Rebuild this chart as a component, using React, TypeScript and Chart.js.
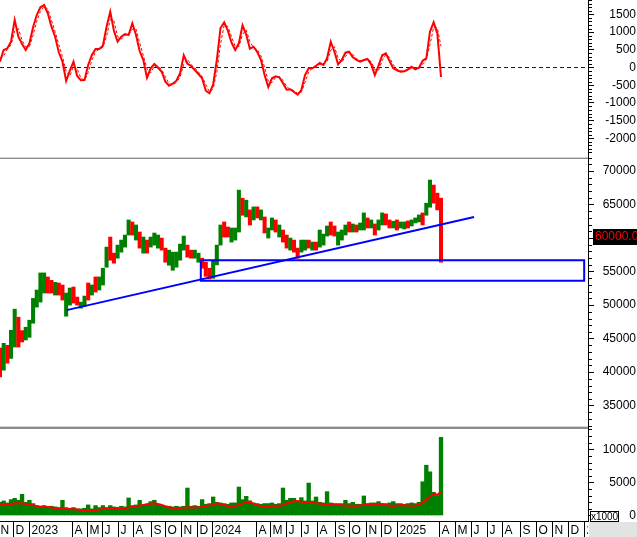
import React, { useEffect, useRef } from 'react';
import { Chart, registerables } from 'chart.js';

Chart.register(...registerables);

const FONT_FAMILY = '"Liberation Sans", Arial, Helvetica, sans-serif';
const AXIS_W = 48;
const X_MIN = 0;
const X_MAX = 800; // trading days shown across the plot
const DAYS_PER_BAR = 5;

const UP = '#008000';
const DOWN = '#ff0000';
const BLUE = '#0000ff';

// ---- Price bars (weekly ranges) ----
const barHigh = [
  43600, 44300, 44000, 46250, 49400, 48200, 46200, 46700, 47750, 51000,
  52250, 54800, 54800, 54200, 53700, 53400, 53300, 53000, 51800, 52550,
  52700, 51200, 50450, 51350, 53300, 53000, 54200, 54200, 55500, 58650,
  60150, 57750, 58950, 59700, 60450, 62700, 62400, 61950, 60900, 60150,
  59700, 60150, 60750, 60450, 60000, 58500, 58200, 57900, 57900, 59100,
  60300, 58950, 58200, 58200, 57750, 57000, 56400, 55500, 56700, 58950,
  61950, 62400, 61650, 61500, 61500, 67150, 65950, 65650, 64200, 64650,
  64650, 64200, 63150, 61500, 63000, 62700, 61950, 61200, 60450, 60000,
  59700, 58500, 59700, 59700, 59700, 59400, 59400, 61200, 60600, 61800,
  62400, 61800, 60900, 61200, 61950, 62400, 62100, 61950, 62250, 63750,
  63000, 62700, 62100, 62700, 63750, 63600, 62700, 62500, 62700, 62400,
  62400, 62550, 62700, 63000, 63450, 63750, 65200, 68650, 67900, 66700,
  65950,
];
const barLow = [
  39300, 40300, 41350, 42050, 43750, 43750, 44500, 44800, 45200, 47300,
  49700, 50450, 51800, 51800, 51800, 51500, 51500, 50750, 48350, 50000,
  50300, 50000, 49550, 49850, 50750, 51500, 51950, 52250, 53000, 55650,
  56700, 56250, 57000, 57900, 58650, 60450, 60450, 59700, 58500, 57750,
  57750, 58650, 58950, 58500, 58200, 56400, 55950, 55200, 55650, 56700,
  58200, 57150, 57000, 57000, 56400, 55500, 54300, 53900, 54000, 56000,
  58950, 60150, 60150, 59400, 59700, 60900, 63400, 63150, 61950, 62700,
  63000, 62700, 60750, 60000, 61200, 60900, 60150, 59400, 58500, 58200,
  57900, 57000, 57900, 58200, 58500, 58200, 58200, 58650, 58950, 60300,
  60450, 60300, 58950, 59700, 60450, 60900, 60900, 60900, 61200, 61200,
  61500, 61500, 60450, 61200, 61950, 61950, 61500, 61500, 61200, 61500,
  61350, 61500, 61800, 62250, 62400, 61950, 63400, 64600, 65200, 64200,
  56400,
];
// 1 = closed up (green), -1 = closed down (red)
const barDir = [
  -1, 1, -1, 1, 1, -1, -1, 1, 1, 1,
  1, 1, 1, -1, -1, 1, -1, -1, 1, 1,
  -1, -1, 1, 1, -1, 1, -1, 1, 1, 1,
  -1, -1, 1, 1, 1, 1, -1, 1, -1, 1,
  -1, 1, 1, 1, -1, -1, 1, 1, 1, 1,
  1, -1, -1, 1, 1, -1, -1, -1, 1, 1,
  1, -1, -1, 1, 1, 1, -1, 1, -1, 1,
  -1, 1, -1, 1, 1, -1, 1, -1, -1, 1,
  -1, -1, 1, 1, -1, 1, -1, 1, 1, 1,
  -1, -1, 1, 1, 1, -1, 1, -1, 1, 1,
  -1, 1, -1, 1, 1, -1, -1, 1, -1, 1,
  1, -1, 1, 1, 1, -1, 1, 1, -1, -1,
  -1,
];

// ---- Oscillator (top panel) ----
const oscMain = [
  164, 494, 542, 729, 1342, 870, 664, 494, 684, 1136,
  1483, 1701, 1766, 1531, 1153, 870, 429, 164, -381, -90,
  164, -240, -362, -353, 71, 353, 523, 523, 616, 1153,
  1576, 1040, 729, 870, 946, 918, 1249, 927, 466, 212,
  -288, -23, 99, -6, -119, -401, -514, -458, -373, -164,
  345, 107, 42, -71, -184, -305, -655, -729, -475, 212,
  1116, 1277, 1040, 701, 494, 684, 1192, 927, 531, 588,
  438, 220, -212, -551, -305, -249, -277, -446, -627, -616,
  -692, -768, -636, -212, -23, -23, 51, 127, 71, 260,
  729, 446, 90, 212, 418, 446, 288, 212, 164, 212,
  240, 90, -212, 51, 345, 401, 184, -23, -79, -119,
  -107, -51, 23, -51, -6, 192, 260, 1011, 1277, 966,
  -268,
];
const oscSignal = [
  250, 330, 520, 640, 1030, 1100, 770, 580, 590, 910,
  1310, 1590, 1730, 1650, 1340, 1010, 650, 300, -110, -240,
  40, -40, -300, -360, -140, 210, 440, 520, 570, 880,
  1360, 1310, 880, 800, 910, 930, 1080, 1090, 700, 340,
  -40, -150, 40, 50, -60, -260, -460, -490, -420, -270,
  90, 230, 80, -10, -130, -250, -480, -690, -600, -130,
  660, 1200, 1160, 870, 600, 590, 940, 1060, 730, 560,
  510, 330, 0, -380, -430, -280, -260, -360, -540, -620,
  -650, -730, -700, -420, -120, -20, 10, 90, 100, 170,
  490, 590, 270, 150, 310, 430, 370, 250, 190, 190,
  230, 170, -60, -80, 200, 370, 290, 80, -50, -100,
  -110, -80, -15, -15, -30, 90, 230, 640, 1140, 1120,
  600,
];
const oscZero = 0;

// ---- Volume (x1000) ----
const volume = [
  2000, 2200, 1900, 2400, 2600, 2300, 3200, 2000, 2300, 1800,
  1500, 1400, 1500, 1300, 1400, 1300, 1200, 2300, 1200, 1100,
  1200, 1000, 1000, 1100, 1600, 1000, 1500, 1200, 1500, 1200,
  1500, 1300, 1200, 1400, 1300, 2650, 1500, 1600, 2300, 1600,
  1700, 2100, 2300, 1700, 1500, 1400, 1400, 1300, 1400, 1300,
  1400, 4150, 1400, 1500, 1400, 2400, 1700, 1800, 2800, 2000,
  1900, 1800, 1700, 1900, 1900, 4300, 2400, 2900, 2200, 1900,
  1800, 1700, 1800, 1800, 1900, 1700, 1800, 4150, 2300, 2600,
  2600, 2000, 2700, 2200, 4900, 2200, 2800, 2000, 1900, 3600,
  1900, 1800, 1800, 1800, 2300, 1800, 2000, 1700, 1700, 2950,
  1800, 1900, 1900, 2100, 1800, 1800, 1900, 2100, 1800, 1800,
  1700, 1800, 1900, 1800, 2000, 5100, 7600, 6600, 3500, 3000,
  11800,
];
const volumeMA = [
  1590, 1590, 1620, 1700, 1840, 1840, 1840, 1750, 1690, 1600,
  1400, 1330, 1330, 1300, 1250, 1100, 1050, 1000, 1000, 980,
  950, 900, 850, 820, 800, 800, 820, 900, 1000, 1050,
  1090, 1090, 1090, 1090, 1100, 1200, 1330, 1400, 1500, 1600,
  1700, 1800, 1840, 1750, 1590, 1400, 1250, 1100, 1090, 1150,
  1190, 1250, 1200, 1200, 1250, 1330, 1450, 1550, 1590, 1840,
  1750, 1600, 1450, 1330, 1450, 1590, 1800, 2000, 2090, 1750,
  1590, 1450, 1330, 1400, 1480, 1480, 1480, 1550, 1840, 2000,
  2150, 2200, 2090, 2000, 1950, 1900, 1840, 1800, 1740, 1740,
  1700, 1650, 1600, 1550, 1500, 1480, 1480, 1480, 1500, 1590,
  1650, 1700, 1740, 1740, 1700, 1600, 1500, 1450, 1500, 1590,
  1550, 1500, 1480, 1500, 1650, 1950, 2400, 2840, 3350, 3100,
  3600,
];

// ---- Axis tick values ----
const oscTicks = [-2000, -1500, -1000, -500, 0, 500, 1000, 1500];
const oscTopCutTick = 2000;
const priceTicks = [35000, 40000, 45000, 50000, 55000, 60000, 65000, 70000];
const volumeTicks = [0, 5000, 10000];

// ---- Time axis (trading-day index of each labelled month start) ----
const monthStartDay = [
  -3, 18, 40, 98, 119, 139, 160, 181, 205, 225, 246, 268, 289,
  348, 368, 389, 409, 431, 456, 475, 498, 518, 540,
  597, 619, 641, 662, 683, 707, 729, 751, 773, 795,
];
const monthLabel = [
  'N', 'D', '2023', 'A', 'M', 'J', 'J', 'A', 'S', 'O', 'N', 'D', '2024',
  'A', 'M', 'J', 'J', 'A', 'S', 'O', 'N', 'D', '2025',
  'A', 'M', 'J', 'J', 'A', 'S', 'O', 'N', 'D', '2026',
];

// ---- Drawings on the price panel ----
const trendDays = [90.7, 645];
const trendPrices = [49250, 63130];
const boxDays = [273.2, 794.8];
const boxPrices = [53630, 56700];
const markPrice = 60000;
const markText = '60000.00';
const volumeUnitText = 'x1000';

const barDays = barHigh.map((_, i) => i * DAYS_PER_BAR);

const xScale = {
  type: 'linear' as const,
  min: X_MIN,
  max: X_MAX,
  offset: false,
  display: false,
};

function yAxis(min: number, max: number, tickValues: number[], hidden: number[] = []) {
  return {
    position: 'right' as const,
    min,
    max,
    grid: { drawOnChartArea: false, drawTicks: true, tickLength: 6, color: '#000', tickColor: '#000' },
    border: { display: true, color: '#000', width: 1 },
    ticks: {
      autoSkip: false,
      color: '#000',
      padding: 0,
      crossAlign: 'far' as const,
      font: { family: FONT_FAMILY, size: 12 },
      callback: (v: any) => (hidden.includes(Number(v)) ? '' : String(v)),
    },
    afterBuildTicks: (s: any) => {
      s.ticks = tickValues.map((v) => ({ value: v }));
    },
    afterFit: (s: any) => {
      s.width = AXIS_W;
      s.paddingTop = 0;
      s.paddingBottom = 0;
    },
  };
}

function minorTicks(minorStep: number, majorStep: number) {
  return {
    id: 'minorTicks',
    afterDraw(chart: any) {
      const ys = chart.scales.y;
      const ctx = chart.ctx;
      ctx.save();
      ctx.strokeStyle = '#000';
      ctx.lineWidth = 1;
      const start = Math.ceil(ys.min / minorStep) * minorStep;
      for (let v = start; v <= ys.max; v += minorStep) {
        if (Math.abs(v % majorStep) < 1e-6) continue;
        const py = Math.round(ys.getPixelForValue(v)) + 0.5;
        ctx.beginPath();
        ctx.moveTo(ys.left, py);
        ctx.lineTo(ys.left + 4, py);
        ctx.stroke();
      }
      ctx.restore();
    },
  };
}

const oscTopLabel = {
  id: 'oscTopLabel',
  afterDraw(chart: any) {
    const ys = chart.scales.y;
    const ctx = chart.ctx;
    ctx.save();
    ctx.fillStyle = '#000';
    ctx.font = `12px ${FONT_FAMILY}`;
    ctx.textAlign = 'right';
    ctx.textBaseline = 'middle';
    ctx.fillText(String(oscTopCutTick), ys.right, ys.getPixelForValue(oscTopCutTick));
    ctx.restore();
  },
};

const priceMark = {
  id: 'priceMark',
  afterDraw(chart: any) {
    const ys = chart.scales.y;
    const ctx = chart.ctx;
    const py = ys.getPixelForValue(markPrice) - 1.5;
    ctx.save();
    ctx.fillStyle = '#000';
    ctx.fillRect(ys.left + 5, Math.round(py - 8), chart.width - ys.left - 5, 16);
    ctx.fillStyle = '#ff0000';
    ctx.font = `12px ${FONT_FAMILY}`;
    ctx.textAlign = 'left';
    ctx.textBaseline = 'middle';
    ctx.fillText(markText, ys.left + 7, py + 0.5);
    ctx.restore();
  },
};

const monthRow = {
  id: 'monthRow',
  afterDraw(chart: any) {
    const { ctx, chartArea } = chart;
    const xs = chart.scales.x;
    const ys = chart.scales.y;
    const top = chartArea.bottom;
    const bottom = chart.height;
    ctx.save();
    ctx.fillStyle = '#e3e3e3';
    ctx.fillRect(chartArea.right + 1, top + 1, chart.width - chartArea.right - 1, bottom - top - 1);
    const uy = Math.round(ys.getPixelForValue(0)) - 5;
    ctx.fillStyle = '#fff';
    ctx.fillRect(chartArea.right + 2.5, uy + 0.5, 28, 10);
    ctx.strokeStyle = '#000';
    ctx.lineWidth = 1;
    ctx.strokeRect(chartArea.right + 2.5, uy + 0.5, 28, 10);
    ctx.fillStyle = '#000';
    ctx.font = `10px ${FONT_FAMILY}`;
    ctx.textAlign = 'center';
    ctx.textBaseline = 'middle';
    ctx.fillText(volumeUnitText, chartArea.right + 16.5, uy + 6);
    ctx.beginPath();
    ctx.rect(0, top, chartArea.right, bottom - top);
    ctx.clip();
    ctx.beginPath();
    ctx.moveTo(0, top + 0.5);
    ctx.lineTo(chartArea.right, top + 0.5);
    ctx.stroke();
    ctx.font = `12px ${FONT_FAMILY}`;
    ctx.textAlign = 'left';
    ctx.textBaseline = 'middle';
    monthStartDay.forEach((d, i) => {
      const px = Math.round(xs.getPixelForValue(d)) + 0.5;
      ctx.beginPath();
      ctx.moveTo(px, top);
      ctx.lineTo(px, bottom);
      ctx.stroke();
      ctx.fillText(monthLabel[i], px + 2, (top + bottom) / 2 + 1.5);
    });
    ctx.restore();
  },
};

const baseOptions = (extraPadBottom: number) => ({
  responsive: false,
  maintainAspectRatio: false,
  animation: false as const,
  events: [] as any[],
  layout: { padding: { left: 0, top: 0, right: 1, bottom: extraPadBottom } },
  plugins: { legend: { display: false }, tooltip: { enabled: false } },
});

export default function App() {
  const oscRef = useRef<HTMLCanvasElement>(null);
  const priceRef = useRef<HTMLCanvasElement>(null);
  const volRef = useRef<HTMLCanvasElement>(null);

  useEffect(() => {
    const charts: Chart[] = [];

    charts.push(
      new Chart(oscRef.current as HTMLCanvasElement, {
        type: 'line',
        data: {
          datasets: [
            {
              data: barDays.map((d, i) => ({ x: d, y: oscMain[i] })),
              borderColor: '#ff0000',
              borderWidth: 2,
              pointRadius: 0,
              tension: 0,
              order: 0,
            },
            {
              data: barDays.map((d, i) => ({ x: d, y: oscSignal[i] })),
              borderColor: '#ff0000',
              borderWidth: 1,
              borderDash: [3, 2],
              pointRadius: 0,
              tension: 0,
              order: 1,
            },
            {
              data: [
                { x: X_MIN, y: oscZero },
                { x: X_MAX, y: oscZero },
              ],
              borderColor: BLUE,
              borderWidth: 1,
              borderDash: [4, 3],
              pointRadius: 0,
              order: 2,
            },
          ],
        },
        options: {
          ...baseOptions(0),
          scales: { x: xScale, y: yAxis(-2528, 1907, oscTicks) },
        } as any,
        plugins: [minorTicks(100, 500), oscTopLabel],
      })
    );

    charts.push(
      new Chart(priceRef.current as HTMLCanvasElement, {
        type: 'bar',
        data: {
          datasets: [
            {
              type: 'line',
              data: [
                { x: trendDays[0], y: trendPrices[0] },
                { x: trendDays[1], y: trendPrices[1] },
              ],
              borderColor: BLUE,
              borderWidth: 2,
              pointRadius: 0,
              order: 0,
            },
            {
              type: 'line',
              data: [
                { x: boxDays[0], y: boxPrices[1] },
                { x: boxDays[1], y: boxPrices[1] },
                { x: boxDays[1], y: boxPrices[0] },
                { x: boxDays[0], y: boxPrices[0] },
                { x: boxDays[0], y: boxPrices[1] },
              ],
              borderColor: BLUE,
              borderWidth: 2,
              borderJoinStyle: 'miter',
              pointRadius: 0,
              order: 0,
            },
            {
              type: 'bar',
              data: barDays.map((d, i) => ({ x: d, y: [barLow[i], barHigh[i]] })),
              backgroundColor: barDir.map((v) => (v > 0 ? UP : DOWN)),
              borderWidth: 0,
              barThickness: 3.4,
              grouped: false,
              order: 1,
            },
          ],
        } as any,
        options: {
          ...baseOptions(0),
          scales: { x: xScale, y: yAxis(31824, 72088, priceTicks, [markPrice]) },
        } as any,
        plugins: [minorTicks(1000, 5000), priceMark],
      })
    );

    charts.push(
      new Chart(volRef.current as HTMLCanvasElement, {
        type: 'bar',
        data: {
          datasets: [
            {
              type: 'line',
              data: barDays.map((d, i) => ({ x: d, y: volumeMA[i] })),
              borderColor: '#ff0000',
              borderWidth: 2,
              pointRadius: 0,
              tension: 0,
              order: 0,
            },
            {
              type: 'bar',
              data: barDays.map((d, i) => ({ x: d, y: volume[i] })),
              backgroundColor: UP,
              borderWidth: 0,
              barThickness: 3.7,
              grouped: false,
              order: 1,
            },
          ],
        } as any,
        options: {
          ...baseOptions(16),
          scales: { x: xScale, y: yAxis(-830, 13369, volumeTicks) },
        } as any,
        plugins: [minorTicks(1000, 5000), monthRow],
      })
    );

    return () => charts.forEach((c) => c.destroy());
  }, []);

  const sep = (top: number, color: string, h: number) => (
    <div style={{ position: 'absolute', left: 0, top, width: 588, height: h, background: color }} />
  );

  return (
    <div style={{ position: 'absolute', left: 0, top: 0, width: 637, height: 537, background: '#fff', overflow: 'hidden' }}>
      <canvas ref={oscRef} width={637} height={157} style={{ position: 'absolute', left: 0, top: 0 }} />
      <canvas ref={priceRef} width={637} height={270} style={{ position: 'absolute', left: 0, top: 157 }} />
      <canvas ref={volRef} width={637} height={110} style={{ position: 'absolute', left: 0, top: 427 }} />
      {sep(157, '#d4d4d4', 1)}
      {sep(158, '#8c8c8c', 1)}
      {sep(426, '#d4d4d4', 1)}
      {sep(427, '#8c8c8c', 2)}
    </div>
  );
}
